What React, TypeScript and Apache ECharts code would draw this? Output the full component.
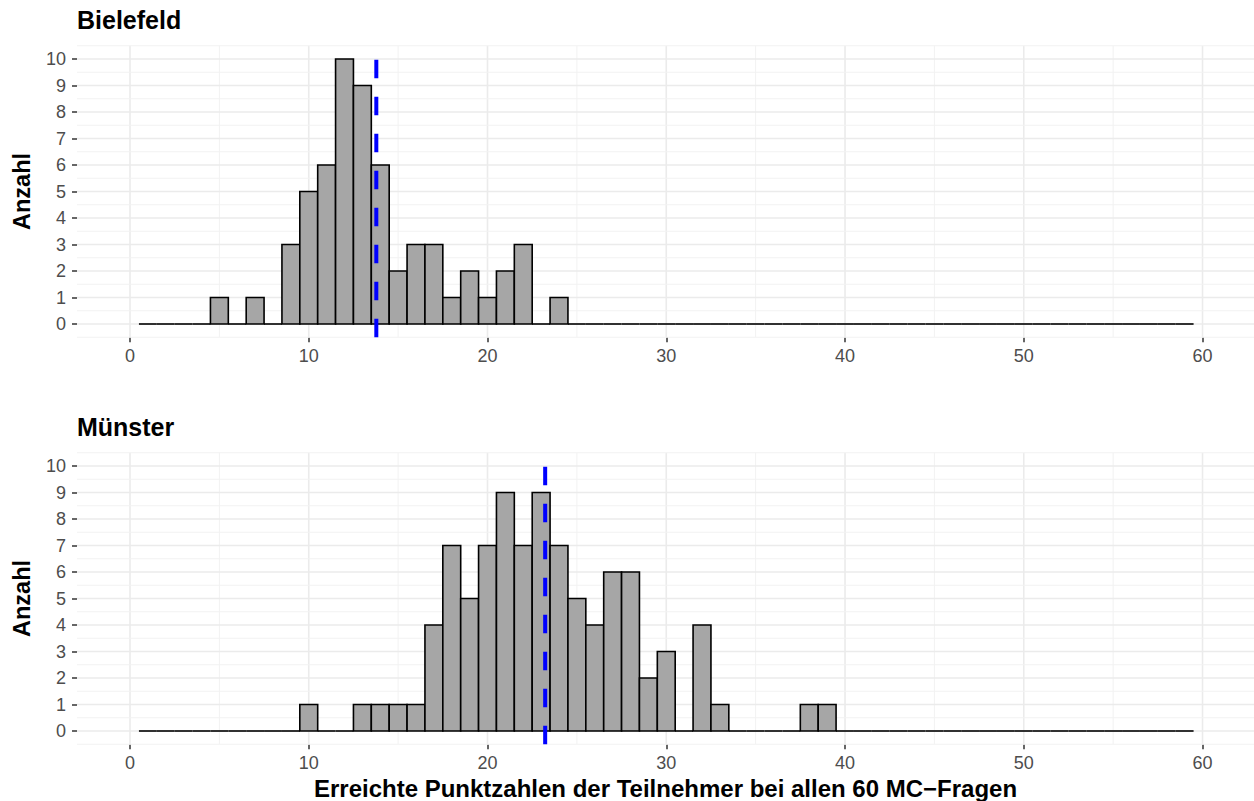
import React, { useEffect, useRef } from "react";
import * as echarts from "echarts";

// ---- data (bins of width 1, centred on integer scores 1..59) ----
const firstBin = 1;
const bielefeldCounts = [
  0, 0, 0, 0, 1, 0, 1, 0, 3, 5, // 1-10
  6, 10, 9, 6, 2, 3, 3, 1, 2, 1, // 11-20
  2, 3, 0, 1, 0, 0, 0, 0, 0, 0, // 21-30
  0, 0, 0, 0, 0, 0, 0, 0, 0, 0, // 31-40
  0, 0, 0, 0, 0, 0, 0, 0, 0, 0, // 41-50
  0, 0, 0, 0, 0, 0, 0, 0, 0, // 51-59
];
const muensterCounts = [
  0, 0, 0, 0, 0, 0, 0, 0, 0, 1, // 1-10
  0, 0, 1, 1, 1, 1, 4, 7, 5, 7, // 11-20
  9, 7, 9, 7, 5, 4, 6, 6, 2, 3, // 21-30
  0, 4, 1, 0, 0, 0, 0, 1, 1, 0, // 31-40
  0, 0, 0, 0, 0, 0, 0, 0, 0, 0, // 41-50
  0, 0, 0, 0, 0, 0, 0, 0, 0, // 51-59
];
const panelTitles = ["Bielefeld", "Münster"];
const xTicks = [0, 10, 20, 30, 40, 50, 60];
const xMinorGrid = [5, 15, 25, 35, 45, 55];
const yTicks = [0, 1, 2, 3, 4, 5, 6, 7, 8, 9, 10];
const yMinorGrid = [-0.5, 0.5, 1.5, 2.5, 3.5, 4.5, 5.5, 6.5, 7.5, 8.5, 9.5, 10.5];
const yAxisTitle = "Anzahl";
const xAxisTitle = "Erreichte Punktzahlen der Teilnehmer bei allen 60 MC\u2212Fragen";

const FONT = "'Liberation Sans', Arial, Helvetica, sans-serif";
const X_MIN = -2.965;
const X_MAX = 62.88;
const Y_MIN = -0.5;
const Y_MAX = 10.5;

function toPairs(counts: number[]) {
  return counts.map((c, i) => [i + firstBin, c]);
}
function meanOf(counts: number[]) {
  let s = 0, n = 0;
  counts.forEach((c, i) => { s += (i + firstBin) * c; n += c; });
  return s / n;
}

export default function App() {
  const ref = useRef<HTMLDivElement>(null);
  useEffect(() => {
    if (!ref.current) return;
    const chart = echarts.init(ref.current, null, { renderer: "svg" });
    const panels = [bielefeldCounts, muensterCounts];
    const gridTops = [45.75, 452.75];
    const gridH = 291.5;

    const grids = gridTops.map((t) => ({ left: 77, right: 0, top: t, height: gridH }));
    const xAxes = panels.map((_, i) => ({
      gridIndex: i,
      type: "value",
      min: X_MIN,
      max: X_MAX,
      axisLine: { show: false, onZero: false },
      splitLine: { show: false },
      axisTick: { show: true, customValues: xTicks, length: 5, lineStyle: { color: "#333333", width: 1.5 } },
      axisLabel: { show: true, customValues: xTicks, fontSize: 18, color: "#4D4D4D", margin: 10, fontFamily: FONT },
    }));
    const yAxes = panels.map((_, i) => ({
      gridIndex: i,
      type: "value",
      min: Y_MIN,
      max: Y_MAX,
      axisLine: { show: false, onZero: false },
      splitLine: { show: false },
      axisTick: { show: true, customValues: yTicks, length: 5, lineStyle: { color: "#333333", width: 1.5 } },
      axisLabel: { show: true, customValues: yTicks, fontSize: 18, color: "#4D4D4D", margin: 11, fontFamily: FONT },
    }));

    const gridData = [
      ...xTicks.map((v) => [v, 0]),
      ...xMinorGrid.map((v) => [v, 1]),
      ...yTicks.map((v) => [v, 2]),
      ...yMinorGrid.map((v) => [v, 3]),
    ];

    const series: any[] = [];
    panels.forEach((counts, i) => {
      series.push({
        type: "custom",
        xAxisIndex: i,
        yAxisIndex: i,
        silent: true,
        z: 1,
        data: gridData,
        encode: { x: 0, y: 1 },
        renderItem: (params: any, api: any) => {
          const v = api.value(0);
          const kind = api.value(1);
          const cs = params.coordSys;
          const major = kind === 0 || kind === 2;
          const style = { stroke: major ? "#EBEBEB" : "#F2F2F2", lineWidth: major ? 1.6 : 1 };
          if (kind < 2) {
            const x = api.coord([v, 0])[0];
            return { type: "line", shape: { x1: x, y1: cs.y, x2: x, y2: cs.y + cs.height }, style };
          }
          const y = api.coord([0, v])[1];
          return { type: "line", shape: { x1: cs.x, y1: y, x2: cs.x + cs.width, y2: y }, style };
        },
      });
      series.push({
        type: "custom",
        xAxisIndex: i,
        yAxisIndex: i,
        silent: true,
        z: 2,
        data: toPairs(counts),
        encode: { x: 0, y: 1 },
        renderItem: (params: any, api: any) => {
          const x = api.value(0);
          const y = api.value(1);
          const p0 = api.coord([x - 0.5, y]);
          const p1 = api.coord([x + 0.5, 0]);
          if (y === 0) {
            return {
              type: "line",
              shape: { x1: p0[0], y1: p1[1], x2: p1[0], y2: p1[1] },
              style: { stroke: "#000000", lineWidth: 1.6 },
            };
          }
          return {
            type: "rect",
            shape: { x: p0[0], y: p0[1], width: p1[0] - p0[0], height: p1[1] - p0[1] },
            style: { fill: "#A6A6A6", stroke: "#000000", lineWidth: 1.6 },
          };
        },
      });
      const m = meanOf(counts);
      series.push({
        type: "line",
        xAxisIndex: i,
        yAxisIndex: i,
        silent: true,
        z: 3,
        symbol: "none",
        clip: false,
        data: [[m, Y_MIN], [m, Y_MAX]],
        lineStyle: { color: "#0000FF", width: 4, type: [18.5, 18.5] },
      });
    });

    const graphic: any[] = [];
    panels.forEach((_, i) => {
      graphic.push({
        type: "text",
        left: 77,
        top: gridTops[i] - 38,
        style: { text: panelTitles[i], font: `bold 25px ${FONT}`, fill: "#000000" },
      });
      graphic.push({
        type: "text",
        x: 22,
        y: gridTops[i] + gridH / 2,
        rotation: Math.PI / 2,
        style: {
          text: yAxisTitle,
          font: `bold 23.5px ${FONT}`,
          fill: "#000000",
          align: "center",
          verticalAlign: "middle",
        },
      });
    });
    graphic.push({
      type: "text",
      x: 665.5,
      y: 788,
      style: {
        text: xAxisTitle,
        font: `bold 24px ${FONT}`,
        fill: "#000000",
        align: "center",
        verticalAlign: "middle",
      },
    });

    chart.setOption({
      animation: false,
      backgroundColor: "#FFFFFF",
      grid: grids,
      xAxis: xAxes,
      yAxis: yAxes,
      series,
      graphic,
    });
    return () => chart.dispose();
  }, []);
  return (
    <div
      ref={ref}
      style={{ position: "fixed", left: 0, top: 0, width: 1254, height: 801, background: "#fff" }}
    />
  );
}
